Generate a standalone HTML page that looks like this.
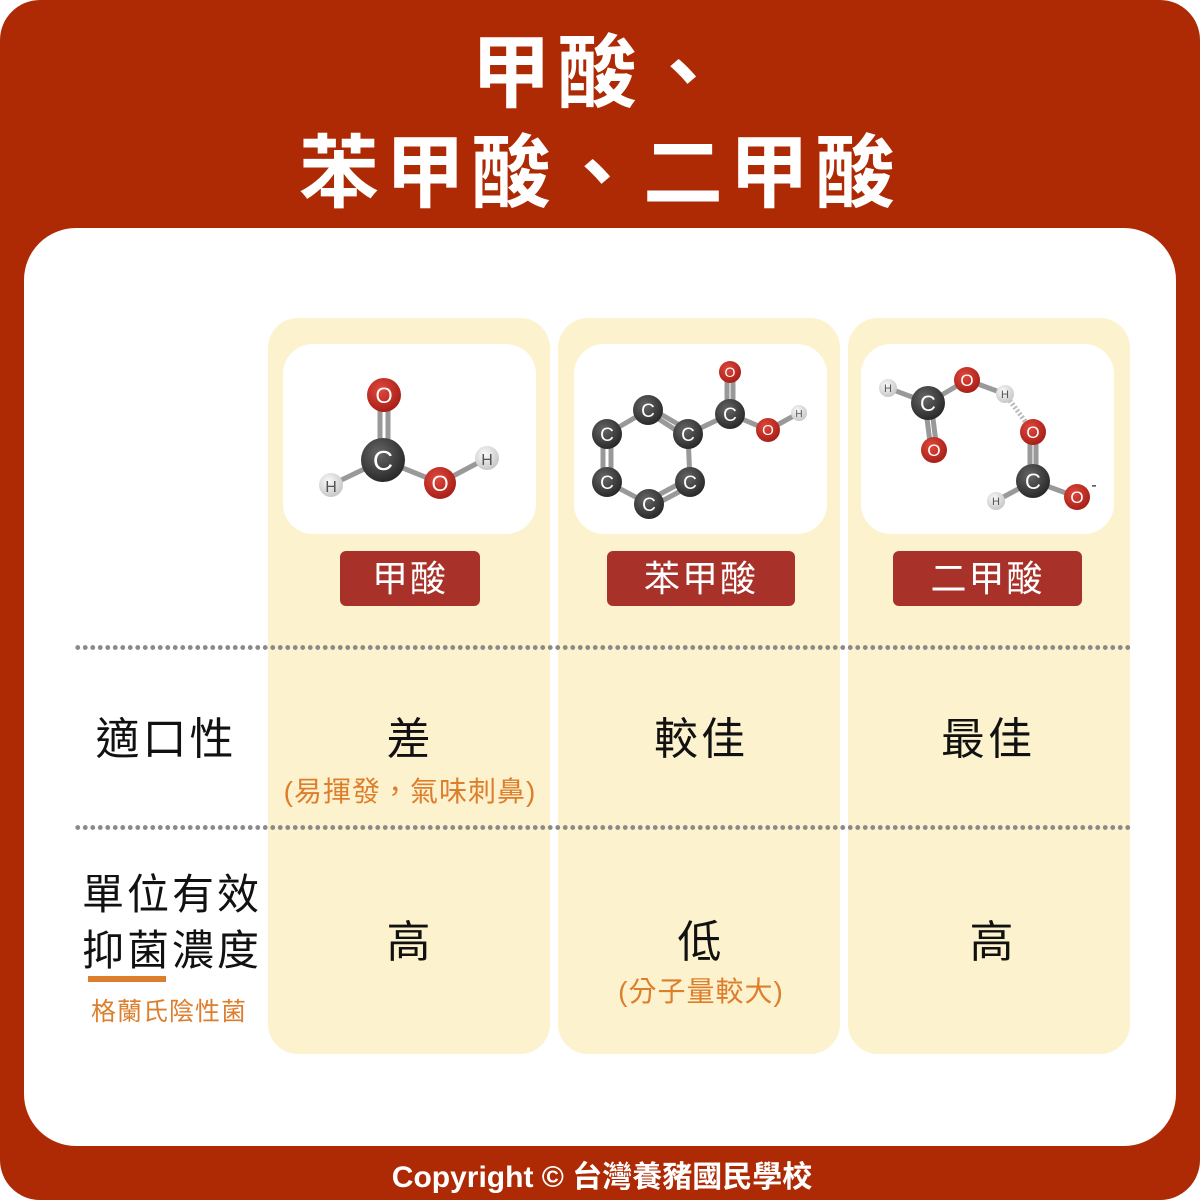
<!DOCTYPE html>
<html><head><meta charset="utf-8"><style>
*{margin:0;padding:0;box-sizing:border-box}
body{width:1200px;height:1200px;background:#fff;position:relative;overflow:hidden;font-family:"Liberation Sans","Noto Sans CJK TC",sans-serif}
.bg{position:absolute;left:0;top:0;width:1200px;height:1200px;background:#ad2a04;border-radius:40px}
.panel{position:absolute;left:24px;top:228px;width:1152px;height:918px;background:#fff;border-radius:52px}
.col{position:absolute;top:318px;width:282px;height:736px;background:#fcf2cd;border-radius:30px}
.card{position:absolute;top:344px;width:253px;height:190px;background:#fff;border-radius:30px}
.lab{position:absolute;top:551px;height:55px;background:#a8322a;border-radius:6px;color:#fff;font-size:36px;line-height:55px;text-align:center;letter-spacing:2px}
.t{position:absolute;white-space:nowrap;text-align:center;transform:translateX(-50%)}
.big{font-size:44px;color:#111;letter-spacing:3px}
.or{font-size:28px;color:#dd7e2c;letter-spacing:1px}
.dot{position:absolute;left:74px;width:1058px;height:5px;background-image:radial-gradient(circle,#8a8a8a 2.2px,transparent 2.6px);background-size:7.5px 5px}
.title{position:absolute;left:0;width:1200px;text-align:center;color:#fff;font-weight:bold;font-size:80px;letter-spacing:6px}
</style></head><body>
<div class="bg"></div>
<div class="title" style="top:9px">甲酸、</div>
<div class="title" style="top:109px">苯甲酸、二甲酸</div>
<div class="panel"></div>
<div class="col" style="left:268px"></div>
<div class="col" style="left:558px"></div>
<div class="col" style="left:848px"></div>
<div class="card" style="left:283px"></div>
<div class="card" style="left:574px"></div>
<div class="card" style="left:861px"></div>
<div class="lab" style="left:340px;width:140px">甲酸</div>
<div class="lab" style="left:607px;width:188px">苯甲酸</div>
<div class="lab" style="left:893px;width:189px">二甲酸</div>
<div class="dot" style="top:645px"></div>
<div class="dot" style="top:825px"></div>

<svg style="position:absolute;left:0;top:0" width="1200" height="1200" font-family="Liberation Sans,sans-serif">
<defs>
<radialGradient id="gc" cx="40%" cy="35%" r="65%"><stop offset="0" stop-color="#666"/><stop offset="1" stop-color="#2a2a2a"/></radialGradient>
<radialGradient id="go" cx="40%" cy="35%" r="65%"><stop offset="0" stop-color="#e0483c"/><stop offset="1" stop-color="#a82018"/></radialGradient>
<radialGradient id="gh" cx="40%" cy="35%" r="65%"><stop offset="0" stop-color="#fafafa"/><stop offset="1" stop-color="#c8c8c8"/></radialGradient>
</defs>
<g stroke="#999" stroke-width="5" fill="none">
<line x1="380" y1="400" x2="380" y2="455"/><line x1="388" y1="400" x2="388" y2="455"/>
<line x1="383" y1="460" x2="331" y2="485"/><line x1="383" y1="460" x2="440" y2="483"/><line x1="440" y1="483" x2="487" y2="458"/>
<line x1="648" y1="410" x2="607" y2="434"/><line x1="645" y1="405" x2="688" y2="430"/><line x1="651" y1="414" x2="688" y2="438"/>
<line x1="603" y1="434" x2="603" y2="482"/><line x1="611" y1="434" x2="611" y2="482"/>
<line x1="688" y1="434" x2="690" y2="482"/><line x1="607" y1="482" x2="649" y2="504"/>
<line x1="690" y1="478" x2="649" y2="500"/><line x1="690" y1="486" x2="649" y2="508"/>
<line x1="688" y1="434" x2="730" y2="414"/><line x1="727" y1="372" x2="727" y2="414"/><line x1="733" y1="372" x2="733" y2="414"/>
<line x1="730" y1="414" x2="768" y2="430"/><line x1="768" y1="430" x2="799" y2="413"/>
<line x1="888" y1="388" x2="928" y2="403"/><line x1="928" y1="403" x2="967" y2="380"/><line x1="967" y1="380" x2="1005" y2="394"/>
<line x1="925" y1="403" x2="931" y2="450"/><line x1="931" y1="403" x2="937" y2="450"/>
<line x1="1030" y1="432" x2="1030" y2="481"/><line x1="1036" y1="432" x2="1036" y2="481"/>
<line x1="1033" y1="481" x2="996" y2="501"/><line x1="1033" y1="481" x2="1077" y2="497"/>
<line x1="1005" y1="394" x2="1033" y2="432" stroke="#bbb" stroke-dasharray="2 2"/>
</g>
<g font-size="20" text-anchor="middle">
<g fill="url(#gc)"><circle cx="383" cy="460" r="22"/><circle cx="648" cy="410" r="15"/><circle cx="607" cy="434" r="15"/><circle cx="688" cy="434" r="15"/><circle cx="607" cy="482" r="15"/><circle cx="690" cy="482" r="15"/><circle cx="649" cy="504" r="15"/><circle cx="730" cy="414" r="15"/><circle cx="928" cy="403" r="17"/><circle cx="1033" cy="481" r="17"/></g>
<g fill="url(#go)"><circle cx="384" cy="395" r="17"/><circle cx="440" cy="483" r="16"/><circle cx="730" cy="372" r="11"/><circle cx="768" cy="430" r="12"/><circle cx="967" cy="380" r="13"/><circle cx="934" cy="450" r="13"/><circle cx="1033" cy="432" r="13"/><circle cx="1077" cy="497" r="13"/></g>
<g fill="url(#gh)"><circle cx="331" cy="485" r="12"/><circle cx="487" cy="458" r="12"/><circle cx="799" cy="413" r="8"/><circle cx="888" cy="388" r="9"/><circle cx="1005" cy="394" r="9"/><circle cx="996" cy="501" r="9"/></g>
<g fill="#fff"><text x="383" y="470" font-size="28">C</text><text x="384" y="403" font-size="22">O</text><text x="440" y="491" font-size="22">O</text>
<text x="648" y="417" font-size="19">C</text><text x="607" y="441" font-size="19">C</text><text x="688" y="441" font-size="19">C</text><text x="607" y="489" font-size="19">C</text><text x="690" y="489" font-size="19">C</text><text x="649" y="511" font-size="19">C</text><text x="730" y="421" font-size="19">C</text>
<text x="730" y="377" font-size="14">O</text><text x="768" y="435" font-size="15">O</text><text x="967" y="386" font-size="17">O</text><text x="934" y="456" font-size="17">O</text><text x="1033" y="438" font-size="17">O</text><text x="1077" y="503" font-size="17">O</text>
<text x="928" y="411" font-size="22">C</text><text x="1033" y="489" font-size="22">C</text></g>
<g fill="#555"><text x="331" y="492" font-size="16">H</text><text x="487" y="465" font-size="16">H</text><text x="799" y="417" font-size="10">H</text><text x="888" y="392" font-size="11">H</text><text x="1005" y="398" font-size="11">H</text><text x="996" y="505" font-size="11">H</text></g>
<text x="1094" y="490" font-size="16" fill="#222">-</text>
</g>
</svg>

<div class="t big" style="left:166px;top:703px">適口性</div>
<div class="t big" style="left:410px;top:703px">差</div>
<div class="t or" style="left:410px;top:770px">(易揮發，氣味刺鼻)</div>
<div class="t big" style="left:701px;top:703px">較佳</div>
<div class="t big" style="left:988px;top:703px">最佳</div>
<div class="t big" style="left:172px;top:861px;font-size:42px">單位有效</div>
<div class="t big" style="left:172px;top:917px;font-size:42px">抑菌濃度</div>
<div style="position:absolute;left:88px;top:976px;width:78px;height:6px;background:#dd7e2c"></div>
<div class="t or" style="left:169px;top:992px;font-size:25px">格蘭氏陰性菌</div>
<div class="t big" style="left:410px;top:906px">高</div>
<div class="t big" style="left:701px;top:906px">低</div>
<div class="t or" style="left:701px;top:970px">(分子量較大)</div>
<div class="t big" style="left:993px;top:906px">高</div>
<div class="t" style="left:602px;top:1152px;color:#fff;font-size:30px;font-weight:bold">Copyright © 台灣養豬國民學校</div>
</body></html>
